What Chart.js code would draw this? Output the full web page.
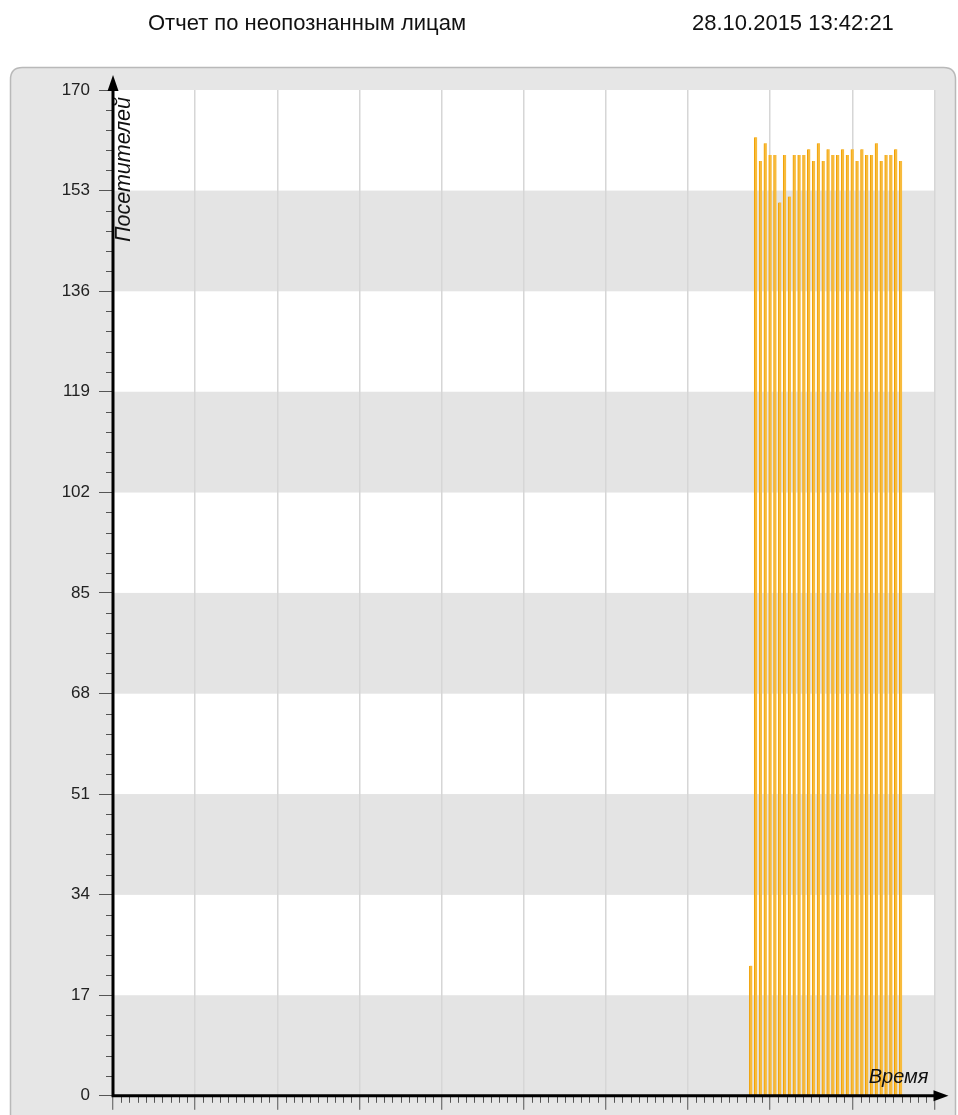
<!DOCTYPE html>
<html><head><meta charset="utf-8">
<script src="https://cdn.jsdelivr.net/npm/chart.js@4.4.0/dist/chart.umd.min.js"></script>
<style>
html,body{margin:0;padding:0;background:#fff;width:958px;height:1115px;overflow:hidden;}
#c{position:absolute;left:0;top:0;}
.t{position:absolute;font-family:"Liberation Sans",Arial,sans-serif;font-size:22px;color:#111;white-space:nowrap;line-height:1;}
</style></head><body>
<canvas id="c" width="958" height="1115"></canvas>
<div class="t" style="left:148px;top:12px;">Отчет по неопознанным лицам</div>
<div class="t" style="left:692px;top:12px;">28.10.2015 13:42:21</div>
<script>
// ---- data ----
const reportTitle = "Отчет по неопознанным лицам";
const yAxisTitle = "Посетителей";
const xAxisTitle = "Время";
const timeSlots = [132,133,134,135,136,137,138,139,140,141,142,143,144,145,146,147,
                   148,149,150,151,152,153,154,155,156,157,158,159,160,161,162,163];
const visitors  = [22,162,158,161,159,159,151,159,152,159,159,159,160,158,161,158,
                   160,159,159,160,159,160,158,160,159,159,161,158,159,159,160,158];
const yTickValues = [0,17,34,51,68,85,102,119,136,153,170];
const xMajorValues = [0,17,34,51,68,85,102,119,136,153,170];

const FONT = '"Liberation Sans", Arial, sans-serif';

const decor = {
  id: 'decor',
  beforeDraw(chart) {
    const ctx = chart.ctx, ca = chart.chartArea, ys = chart.scales.y;
    ctx.save();
    const px = 10.5, py = 67.5, pw = 945, ph = 1080, r = 12;
    ctx.beginPath();
    ctx.moveTo(px + r, py);
    ctx.lineTo(px + pw - r, py);
    ctx.quadraticCurveTo(px + pw, py, px + pw, py + r);
    ctx.lineTo(px + pw, py + ph);
    ctx.lineTo(px, py + ph);
    ctx.lineTo(px, py + r);
    ctx.quadraticCurveTo(px, py, px + r, py);
    ctx.closePath();
    ctx.fillStyle = '#e6e6e6';
    ctx.fill();
    ctx.strokeStyle = '#b9b9b9';
    ctx.lineWidth = 1.5;
    ctx.stroke();
    for (let i = 0; i < yTickValues.length - 1; i++) {
      const y0 = ys.getPixelForValue(yTickValues[i]);
      const y1 = ys.getPixelForValue(yTickValues[i + 1]);
      ctx.fillStyle = (i % 2 === 0) ? '#e4e4e4' : '#ffffff';
      ctx.fillRect(ca.left, y1, ca.right - ca.left, y0 - y1);
    }
    ctx.restore();
  },
  afterDraw(chart) {
    const ctx = chart.ctx, ca = chart.chartArea, xs = chart.scales.x, ys = chart.scales.y;
    const ox = xs.getPixelForValue(0), oy = ys.getPixelForValue(0);
    ctx.save();
    ctx.strokeStyle = '#555';
    ctx.lineWidth = 1;
    for (let i = 0; i < yTickValues.length - 1; i++) {
      const a = yTickValues[i], b = yTickValues[i + 1];
      for (let k = 1; k < 5; k++) {
        const y = Math.round(ys.getPixelForValue(a + (b - a) * k / 5)) + 0.5;
        ctx.beginPath(); ctx.moveTo(ox - 7, y); ctx.lineTo(ox, y); ctx.stroke();
      }
    }
    for (let i = 0; i < xMajorValues.length - 1; i++) {
      const a = xMajorValues[i], b = xMajorValues[i + 1];
      for (let k = 1; k < 10; k++) {
        const x = Math.round(xs.getPixelForValue(a + (b - a) * k / 10)) + 0.5;
        ctx.beginPath(); ctx.moveTo(x, oy); ctx.lineTo(x, oy + 7); ctx.stroke();
      }
    }
    ctx.strokeStyle = '#000';
    ctx.fillStyle = '#000';
    ctx.lineWidth = 3;
    ctx.beginPath();
    ctx.moveTo(ox, ca.top - 2);
    ctx.lineTo(ox, oy);
    ctx.lineTo(ca.right + 2, oy);
    ctx.stroke();
    ctx.beginPath();
    ctx.moveTo(ox, ca.top - 15);
    ctx.lineTo(ox - 5.5, ca.top + 1);
    ctx.lineTo(ox + 5.5, ca.top + 1);
    ctx.closePath(); ctx.fill();
    ctx.beginPath();
    ctx.moveTo(ca.right + 14, oy);
    ctx.lineTo(ca.right - 1, oy - 5.5);
    ctx.lineTo(ca.right - 1, oy + 5.5);
    ctx.closePath(); ctx.fill();
    ctx.fillStyle = '#111';
    ctx.font = 'italic 20px ' + FONT;
    ctx.textAlign = 'right';
    ctx.textBaseline = 'alphabetic';
    ctx.fillText(xAxisTitle, ca.right - 6, oy - 13);
    ctx.font = 'italic 21.5px ' + FONT;
    ctx.translate(ox + 17, ca.top + 7);
    ctx.rotate(-Math.PI / 2);
    ctx.textAlign = 'right';
    ctx.fillText(yAxisTitle, 0, 0);
    ctx.restore();
  }
};

new Chart(document.getElementById('c'), {
  type: 'bar',
  data: {
    datasets: [{
      data: timeSlots.map((t, i) => ({ x: t, y: visitors[i] })),
      backgroundColor: '#f8bb3c',
      borderColor: '#f0a000',
      borderWidth: { left: 1, right: 0, top: 0, bottom: 0 },
      borderSkipped: false,
      barThickness: 3
    }]
  },
  options: {
    responsive: false,
    animation: false,
    devicePixelRatio: 1,
    layout: { padding: { left: 0, top: 90, right: 23.5, bottom: 0 } },
    plugins: { legend: { display: false }, tooltip: { enabled: false }, title: { display: false } },
    scales: {
      x: {
        type: 'linear',
        min: 0, max: 170,
        offset: false,
        ticks: { display: false, stepSize: 17 },
        afterBuildTicks(s) { s.ticks = xMajorValues.map(v => ({ value: v })); },
        afterFit(s) { s.height = 17; },
        grid: { display: true, offset: false, drawOnChartArea: true, color: '#d6d6d6', lineWidth: 1.5,
                drawTicks: true, tickLength: 14, tickColor: '#555', tickWidth: 1 },
        border: { display: false }
      },
      y: {
        type: 'linear',
        min: 0, max: 170,
        afterBuildTicks(s) { s.ticks = yTickValues.map(v => ({ value: v })); },
        afterFit(s) { s.width = 113; },
        ticks: { color: '#222', padding: 9, font: { family: FONT, size: 17 } },
        grid: { display: true, drawOnChartArea: false, drawTicks: true, tickLength: 14,
                tickColor: '#555', tickWidth: 1 },
        border: { display: false }
      }
    }
  },
  plugins: [decor]
});
</script>
</body></html>
